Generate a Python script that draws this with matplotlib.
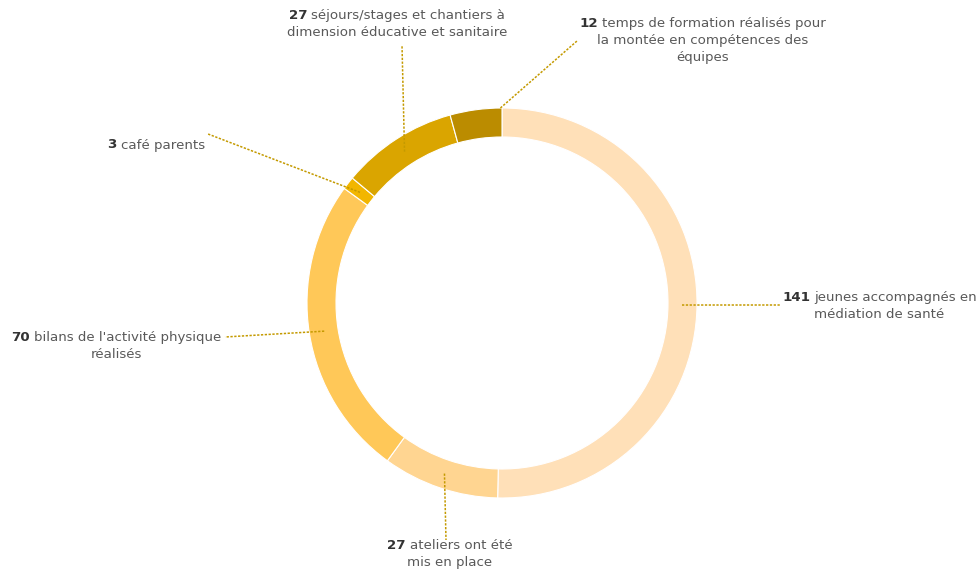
import matplotlib
matplotlib.use("Agg")
import numpy as np
import matplotlib.pyplot as plt
from matplotlib.offsetbox import TextArea, HPacker, VPacker, AnnotationBbox

# data (clockwise from 12 o'clock)
values = [141, 27, 70, 3, 27, 12]
first_lines = ["jeunes accompagnés en", "ateliers ont été", "bilans de l'activité physique",
               "café parents", "séjours/stages et chantiers à", "temps de formation réalisés pour"]
more_lines = [["médiation de santé"], ["mis en place"], ["réalisés"], [],
              ["dimension éducative et sanitaire"], ["la montée en compétences des", "équipes"]]
colors = ["#FFE0B8", "#FFD591", "#FFC858", "#F2B600", "#DAA500", "#BB8C00"]

W, H = 976, 571
cx, cy = 502, H - 303
R = 195
width = 29

# label placement in pixel coords (top-left origin): end of leader, text anchor, box alignment
label_pos = [
    ((780, 305), (782, 306), (0, 0.5)),
    ((446, 540), (450, 539), (0.5, 1)),
    ((225, 337), (221, 346), (1, 0.5)),
    ((208, 134), (205, 145), (1, 0.5)),
    ((402, 45), (397, 9), (0.5, 1)),
    ((577, 41), (703, 17), (0.5, 1)),
]
leader_r = [180, 180, 180, 180, 180, 195]

fig = plt.figure(figsize=(W / 100, H / 100), dpi=100)
ax = fig.add_axes([0, 0, 1, 1])

wedges, _ = ax.pie(values, colors=colors, startangle=90, counterclock=False,
                   center=(cx, cy), radius=R, frame=True,
                   wedgeprops=dict(width=width, edgecolor="white", linewidth=0.8))
ax.set_xlim(0, W)
ax.set_ylim(0, H)
ax.set_aspect("equal")
ax.axis("off")

line_color = "#C49A00"
fs = 9.6
total = sum(values)
cum = 0
for i, v in enumerate(values):
    if i == len(values) - 1:
        ang = 90 - 360 * (cum + v * 0.97) / total
    else:
        ang = 90 - 360 * (cum + v / 2) / total
    cum += v
    r = leader_r[i]
    x0 = cx + r * np.cos(np.radians(ang))
    y0 = cy + r * np.sin(np.radians(ang))
    (ex, ey), (tx, ty), align = label_pos[i]
    ax.plot([x0, ex], [y0, H - ey], color=line_color, lw=1.1,
            linestyle=(0, (1.5, 1)), zorder=3)

    num = TextArea(str(v), textprops=dict(fontsize=fs, fontweight="bold", color="#333333"))
    rest = TextArea(first_lines[i], textprops=dict(fontsize=fs, color="#595959"))
    rows = [HPacker(children=[num, rest], pad=0, sep=3)]
    for extra in more_lines[i]:
        rows.append(TextArea(extra, textprops=dict(fontsize=fs, color="#595959")))
    box = VPacker(children=rows, align="center", pad=0, sep=3)
    ab = AnnotationBbox(box, (tx, H - ty), xycoords="data", box_alignment=align,
                        frameon=False, pad=0)
    ax.add_artist(ab)

fig.savefig("out.png", dpi=100, facecolor="white")
